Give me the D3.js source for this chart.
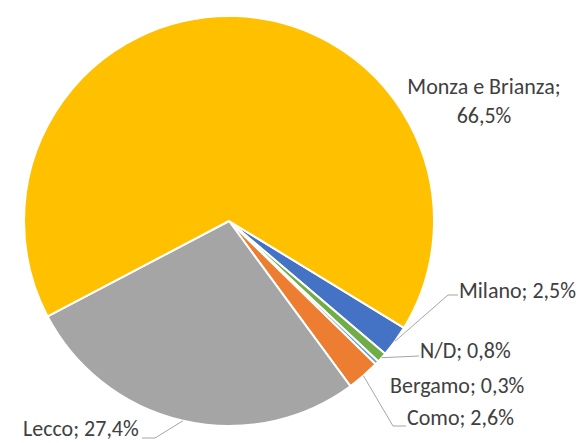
<!DOCTYPE html>
<html>
	<head>
		<meta charset="UTF-8">
		<title>Province pie</title>
		<script src="https://cdn.jsdelivr.net/npm/d3@7/dist/d3.min.js"></script>
		<style>
			body { margin: 0; background: #fff; }
			text { font-family: Carlito, Calibri, "Open Sans", sans-serif; fill: #404040; }
		</style>
	</head>
	<body>
		<script>
			//data, clockwise starting from Milano
			var categories = ["Milano", "N/D", "Bergamo", "Como", "Lecco", "Monza e Brianza"];
			var shares = [2.5, 0.8, 0.3, 2.6, 27.4, 66.5];
			var valueLabels = ["2,5%", "0,8%", "0,3%", "2,6%", "27,4%", "66,5%"];
			var colors = ["#4472C4", "#70AD47", "#5B9BD5", "#ED7D31", "#A5A5A5", "#FFC000"];

			var w = 579;
			var h = 443;
			var cx = 229, cy = 221, radius = 205;

			var svg = d3.select("body")
				.append("svg")
				.attr("width", w)
				.attr("height", h);

			var pie = d3.pie()
				.sort(null)
				.value(function(d){ return d; })
				.startAngle(121.4 * Math.PI / 180)
				.endAngle((121.4 + 360) * Math.PI / 180);

			var arcs = pie(shares);

			var arc = d3.arc()
				.innerRadius(0)
				.outerRadius(radius);

			var g = svg.append("g")
				.attr("transform", "translate(" + cx + "," + cy + ")");

			g.selectAll("path")
				.data(arcs)
				.enter()
				.append("path")
				.attr("d", arc)
				.attr("fill", function(d, i){ return colors[i]; })
				.attr("stroke", "#fff")
				.attr("stroke-width", 2)
				.attr("stroke-linejoin", "round");

			//point on the rim at the middle of a slice
			function rimPoint(d) {
				var a = (d.startAngle + d.endAngle) / 2;
				return [cx + radius * Math.sin(a), cy - radius * Math.cos(a)];
			}

			//where each label sits (anchor, x, y) and where its leader line bends
			var placement = [
				{anchor: "start", x: 459, y: 298, elbow: [448, 295], end: [458, 295]},
				{anchor: "start", x: 420, y: 358, elbow: null, end: [419, 356]},
				{anchor: "start", x: 390, y: 393, elbow: null, end: null},
				{anchor: "start", x: 407, y: 425, elbow: [393, 426], end: [406, 426]},
				{anchor: "start", x: 23, y: 436, elbow: [155, 438], end: [142, 438]},
				{anchor: "middle", x: 484, y: 94, elbow: null, end: null}
			];

			//leader lines
			arcs.forEach(function(d, i) {
				var p = placement[i];
				if (!p.end) return;
				var pts = [rimPoint(d)];
				if (p.elbow) pts.push(p.elbow);
				pts.push(p.end);
				svg.append("polyline")
					.attr("points", pts.map(function(q){ return q.join(","); }).join(" "))
					.attr("fill", "none")
					.attr("stroke", "#A6A6A6")
					.attr("stroke-width", 1);
			});

			//labels
			arcs.forEach(function(d, i) {
				var p = placement[i];
				var t = svg.append("text")
					.attr("x", p.x)
					.attr("y", p.y)
					.attr("text-anchor", p.anchor)
					.style("font-size", "22px");
				if (categories[i] == "Monza e Brianza") {
					t.append("tspan").attr("x", p.x).text(categories[i] + ";");
					t.append("tspan").attr("x", p.x).attr("dy", 29).text(valueLabels[i]);
				} else {
					t.text(categories[i] + "; " + valueLabels[i]);
				}
			});
		</script>
	</body>
</html>
